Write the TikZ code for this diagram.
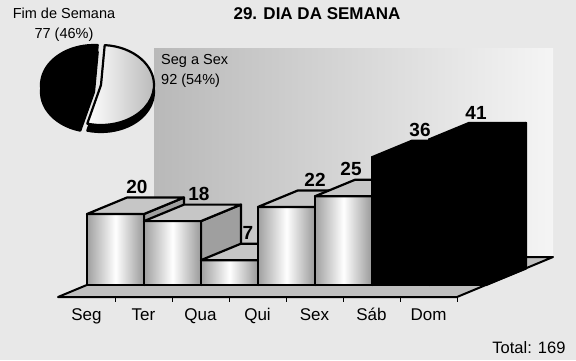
\documentclass[tikz,border=0pt]{standalone}
\usepackage{fontspec}
\setmainfont{Liberation Sans}
\tikzset{
  outl/.style={draw=black,line width=2.2pt,line join=round},
  frontface/.style={outl,left color=gray!75,right color=gray!80,middle color=white},
  topface/.style={outl,fill=gray!45},
  sideface/.style={outl,fill=gray!75},
  darkface/.style={outl,fill=black},
  vallabel/.style={font=\bfseries\fontsize{19}{19}\selectfont,anchor=south,inner sep=0pt},
  catlabel/.style={font=\fontsize{17}{17}\selectfont,anchor=base,inner sep=0pt},
  pielabel/.style={font=\fontsize{14.5}{20}\selectfont,inner sep=0pt},
}
\begin{document}
\begin{tikzpicture}[x=1pt,y=-1pt]
\useasboundingbox (0,0) rectangle (576,360);
\fill[gray!18] (0,0) rectangle (576,360);
\shade[left color=gray!55,right color=gray!8] (154,48) rectangle (553,257);
\filldraw[fill=gray!50,draw=black,line width=2pt,line join=round]
  (58,297) -- (457,297) -- (553,257) -- (154,257) -- cycle;
\foreach \k in {1,...,7}
  \draw[line width=0.8pt] (58+57*\k,297) -- ++(0,5);
\foreach \v/\lx/\fr/\tp/\sd [count=\i from 0] in
  {20/137/frontface/topface/sideface,18/199/frontface/topface/sideface,
   7/248/frontface/topface/sideface,22/315/frontface/topface/sideface,
   25/351/frontface/topface/sideface,36/420/darkface/darkface/darkface,
   41/476/darkface/darkface/darkface}{
  \pgfmathsetmacro{\xa}{87+57*\i}
  \pgfmathsetmacro{\xb}{\xa+57}
  \pgfmathsetmacro{\yt}{285-3.55*\v}
  \draw[\sd] (\xb,285) -- ++(40,-16.5) -- (\xb+40,\yt-16.5) -- (\xb,\yt) -- cycle;
  \draw[\fr] (\xa,285) rectangle (\xb,\yt);
  \draw[\tp] (\xa,\yt) -- ++(40,-16.5) -- ++(57,0) -- ++(-40,16.5) -- cycle;
  \node[vallabel] (v\i) at (\lx,\yt-20) {\v};
}
\foreach \d [count=\i from 0] in {Seg,Ter,Qua,Qui,Sex,Sáb,Dom}
  \node[catlabel] (c\i) at (86.5+57*\i,320) {\d};
\filldraw[darkface] (94,92) -- ++(105:53 and 40)
  arc[start angle=105,end angle=274,x radius=53,y radius=40] -- cycle;
\filldraw[darkface] (94,85) -- ++(105:53 and 40)
  arc[start angle=105,end angle=274,x radius=53,y radius=40] -- cycle;
\filldraw[darkface] (101,92) -- ++(-86:53 and 40)
  arc[start angle=-86,end angle=105,x radius=53,y radius=40] -- cycle;
\draw[outl,left color=white,right color=gray!55] (101,85) -- ++(-86:53 and 40)
  arc[start angle=-86,end angle=105,x radius=53,y radius=40] -- cycle;
\node[pielabel,align=center] (fim) at (64,25) {Fim de Semana\\77 (46\%)};
\node[pielabel,align=left,anchor=north west] (seg) at (161,54) {Seg a Sex\\92 (54\%)};
\node[font=\bfseries\fontsize{17}{17}\selectfont] (title) at (317,14) {29. DIA DA SEMANA};
\node[anchor=base east,font=\fontsize{16.5}{16.5}\selectfont] (total) at (569,353) {Total: 169};
\end{tikzpicture}
\end{document}
